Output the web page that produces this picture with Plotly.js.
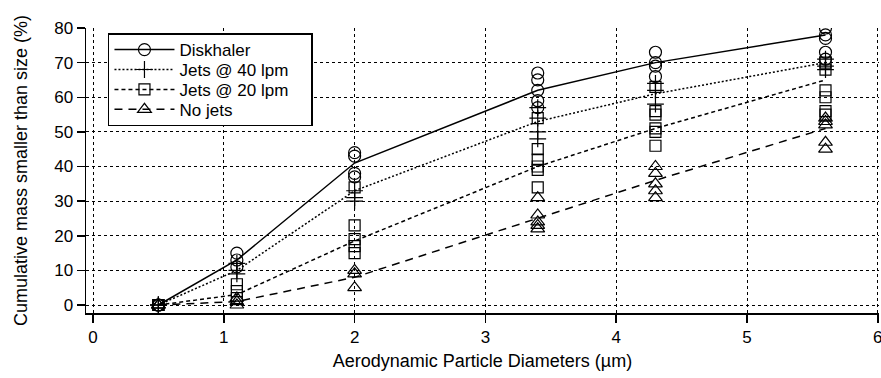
<!DOCTYPE html>
<html>
<head>
<meta charset="utf-8">
<script src="https://cdn.plot.ly/plotly-3.0.1.min.js"></script>
<style>
html,body{margin:0;padding:0;background:#fff;}
#chart{width:881px;height:378px;}
#chart .legendtext{font-size:17px !important; transform: translateY(1.5px);}
</style>
</head>
<body>
<div id="chart"></div>
<script>
// Mean curves
const sizes = [0.5, 1.1, 2.0, 3.4, 4.3, 5.6];
const meanDiskhaler = [0, 13, 41, 62, 70, 78];
const meanJets40 = [0, 10, 33, 53, 61, 70];
const meanJets20 = [0, 3, 18.5, 40, 51, 65];
const meanNoJets = [0, 1, 8, 25, 36, 51];

// Individual measurements (x, y)
const diskX = [0.5,0.5,0.5, 1.1,1.1,1.1, 2,2,2,2, 3.4,3.4,3.4,3.4,3.4, 4.3,4.3,4.3,4.3, 5.6,5.6,5.6,5.6,5.6];
const diskY = [0,0,0, 15,13,11, 44,43,38,37, 67,65,62,59,57, 73,70,69,66, 80,78,77,73,71];
const j40X = [0.5,0.5,0.5, 1.1,1.1,1.1, 2,2,2, 3.4,3.4,3.4,3.4, 4.3,4.3,4.3, 5.6,5.6,5.6];
const j40Y = [0,0,0, 12,10,9, 33,31,30, 57,54,50,48, 64,62,58, 71,69,68];
const j20X = [0.5,0.5,0.5, 1.1,1.1,1.1, 2,2,2,2,2, 3.4,3.4,3.4,3.4,3.4,3.4, 4.3,4.3,4.3,4.3,4.3,4.3, 5.6,5.6,5.6,5.6,5.6,5.6];
const j20Y = [0,0,0, 6,4,2, 34,23,19,17,15, 54,45,42,40,39,34, 63,56,55,51,50,46, 70,68,62,60,56,55];
const njX = [0.5,0.5,0.5, 1.1,1.1,1.1, 2,2,2, 3.4,3.4,3.4,3.4,3.4, 4.3,4.3,4.3,4.3,4.3, 5.6,5.6,5.6,5.6,5.6];
const njY = [0,0,0, 2,1,0, 10,9,5, 31,26,24,23,22, 40,38,35,33,31, 54,53,52,47,45];

const seriesNames = ['Diskhaler', 'Jets @ 40 lpm', 'Jets @ 20 lpm', 'No jets'];
const xTickVals = [0, 1, 2, 3, 4, 5, 6];
const yTickVals = [0, 10, 20, 30, 40, 50, 60, 70, 80];

const dashes = ['solid', '2px,2px', '4px,3px', '8px,6px'];
const symbols = ['circle-open', 'cross-thin-open', 'square-open', 'triangle-up-open'];
const msizes = [12, 12, 11, 12];
const means = [meanDiskhaler, meanJets40, meanJets20, meanNoJets];
const ptsX = [diskX, j40X, j20X, njX];
const ptsY = [diskY, j40Y, j20Y, njY];

// legend box is measured at the layout font size; pad the longest label so the box fits the displayed text
const legendPad = '\u00a0'.repeat(12);

const traces = [];
for (let i = 0; i < 4; i++) {
  traces.push({
    x: ptsX[i], y: ptsY[i], type: 'scatter', mode: 'markers', showlegend: false,
    marker: {symbol: symbols[i], size: msizes[i], color: 'black', line: {color: 'black', width: 1.2}},
    hoverinfo: 'skip'
  });
  traces.push({
    x: sizes, y: means[i], type: 'scatter', mode: 'lines', showlegend: false,
    line: {color: 'black', width: 1.5, dash: dashes[i]}
  });
}
for (let i = 0; i < 4; i++) {
  traces.push({
    x: [null], y: [null], type: 'scatter', mode: 'lines+markers',
    name: i === 1 ? seriesNames[i] + legendPad : seriesNames[i],
    line: {color: 'black', width: 1.5, dash: dashes[i]},
    marker: {symbol: symbols[i], size: msizes[i], color: 'black', line: {color: 'black', width: 1.2}}
  });
}

const fam = 'Liberation Sans, Arial, Helvetica, sans-serif';
const tickFont = {family: fam, size: 17, color: 'black'};
const titleFont = {family: fam, size: 18, color: 'black'};
const legendFont = {family: fam, size: 13, color: 'black'};

const layout = {
  width: 881, height: 378,
  margin: {l: 86, r: 2, t: 28, b: 65},
  paper_bgcolor: 'white', plot_bgcolor: 'white',
  font: tickFont,
  showlegend: true,
  legend: {
    x: 0.0277, y: 0.982, xanchor: 'left', yanchor: 'top',
    bgcolor: 'white', bordercolor: 'black', borderwidth: 1.5,
    font: legendFont, itemwidth: 60, tracegroupgap: 0
  },
  xaxis: {
    range: [-0.0535, 6.009],
    tickvals: xTickVals, ticktext: xTickVals.map(String),
    tickfont: tickFont, ticklabeloverflow: 'allow',
    showline: true, linecolor: 'black', linewidth: 1.5,
    ticks: 'outside', ticklen: 8, tickwidth: 1.5, tickcolor: 'black',
    showgrid: true, gridcolor: 'black', gridwidth: 1, griddash: 'dot',
    zeroline: false,
    title: {text: 'Aerodynamic Particle Diameters (µm)', font: titleFont, standoff: 8}
  },
  yaxis: {
    range: [-2.31, 80],
    tickvals: yTickVals, ticktext: yTickVals.map(String),
    tickfont: tickFont,
    showline: true, linecolor: 'black', linewidth: 1.5,
    ticks: 'outside', ticklen: 8, tickwidth: 1.5, tickcolor: 'black',
    showgrid: true, gridcolor: 'black', gridwidth: 1, griddash: 'dot',
    zeroline: false,
    title: {text: 'Cumulative mass smaller than size (%)', font: titleFont, standoff: 22}
  }
};

Plotly.newPlot('chart', traces, layout, {staticPlot: true, displayModeBar: false});
</script>
</body>
</html>
